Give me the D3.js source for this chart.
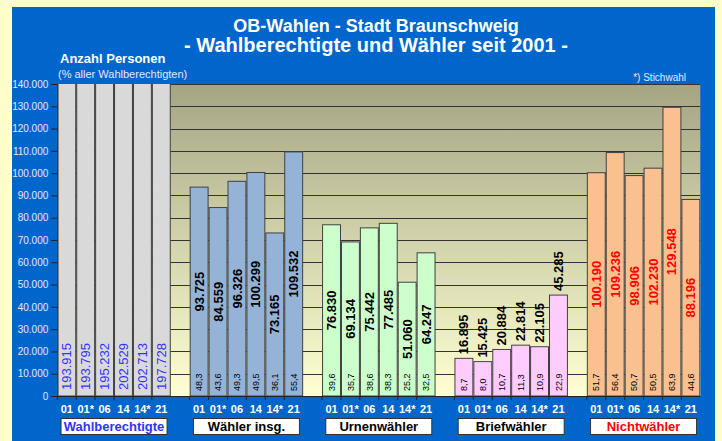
<!DOCTYPE html>
<html>
<head>
<meta charset="utf-8">
<script src="https://cdn.jsdelivr.net/npm/d3@7"></script>
<style>
  body { margin: 0; background: #FFFFCC; }
  svg { display: block; font-family: "Liberation Sans", Arial, sans-serif; }
</style>
</head>
<body>
<svg id="chart"></svg>
<script>
// chart data
const years = ["01", "01*", "06", "14", "14*", "21"];
const groups = ["Wahlberechtigte", "Wähler insg.", "Urnenwähler", "Briefwähler", "Nichtwähler"];
const wahlberechtigte = [193915, 193795, 195232, 202529, 202713, 197728];
const waehler = [93725, 84559, 96326, 100299, 73165, 109532];
const waehlerPct = [48.3, 43.6, 49.3, 49.5, 36.1, 55.4];
const urnen = [76830, 69134, 75442, 77485, 51060, 64247];
const urnenPct = [39.6, 35.7, 38.6, 38.3, 25.2, 32.5];
const brief = [16895, 15425, 20884, 22814, 22105, 45285];
const briefPct = [8.7, 8.0, 10.7, 11.3, 10.9, 22.9];
const nicht = [100190, 109236, 98906, 102230, 129548, 88196];
const nichtPct = [51.7, 56.4, 50.7, 50.5, 63.9, 44.6];
const yTicks = [0, 10000, 20000, 30000, 40000, 50000, 60000, 70000, 80000, 90000, 100000, 110000, 120000, 130000, 140000];

const seriesValues = [wahlberechtigte, waehler, urnen, brief, nicht];
const seriesPct = [null, waehlerPct, urnenPct, briefPct, nichtPct];
const fills = ["#D9D9D9", "#95B3D7", "#CCFFCC", "#FFCCFF", "#FAC090"];
const labelColors = ["#3333FF", "#000", "#000", "#000", "#FF0000"];
const boxColors = ["#3333FF", "#000", "#000", "#000", "#FF0000"];

const width = 722, height = 441;
const plotLeft = 57.3, plotRight = 700.3, plotTop = 84, plotBottom = 396;

const de = d3.formatLocale({ decimal: ",", thousands: ".", grouping: [3], currency: ["", "€"] });
const fmtN = de.format(",d");
const fmtP = de.format(".1f");

// slots: 6 bars per group plus an empty slot between groups
const slots = [];
groups.forEach((g, gi) => {
  years.forEach(yr => slots.push(gi + "|" + yr));
  if (gi < groups.length - 1) slots.push("gap" + gi);
});

const x = d3.scaleBand().domain(slots).range([plotLeft, plotRight]).paddingInner(0);
const y = d3.scaleLinear().domain([0, 140000]).range([plotBottom, plotTop]);

const bars = [];
groups.forEach((g, gi) => {
  years.forEach((yr, i) => {
    bars.push({ g: gi, key: gi + "|" + yr, year: yr, value: seriesValues[gi][i], pct: seriesPct[gi] ? seriesPct[gi][i] : null });
  });
});

const svg = d3.select("#chart").attr("width", width).attr("height", height);

svg.append("rect").attr("x", 12).attr("y", 7).attr("width", 703).attr("height", 434).attr("fill", "#0066CC");

const defs = svg.append("defs");
const grad = defs.append("linearGradient").attr("id", "bg").attr("x1", 0).attr("y1", 0).attr("x2", 0).attr("y2", 1);
grad.append("stop").attr("offset", "0%").attr("stop-color", "#A5A585");
grad.append("stop").attr("offset", "100%").attr("stop-color", "#FFFFD2");
defs.append("clipPath").attr("id", "plotclip").append("rect")
  .attr("x", plotLeft).attr("y", plotTop).attr("width", plotRight - plotLeft).attr("height", plotBottom - plotTop);

svg.append("rect").attr("x", plotLeft).attr("y", plotTop).attr("width", plotRight - plotLeft).attr("height", plotBottom - plotTop)
  .attr("fill", "url(#bg)");

// gridlines
svg.append("g").selectAll("line").data(yTicks.slice(1)).join("line")
  .attr("x1", plotLeft).attr("x2", plotRight)
  .attr("y1", d => Math.round(y(d)) + 0.5).attr("y2", d => Math.round(y(d)) + 0.5)
  .attr("stroke", "#333").attr("stroke-width", 1);

// titles
svg.append("text").attr("x", 376).attr("y", 32).attr("text-anchor", "middle")
  .attr("fill", "#fff").attr("font-weight", "bold").attr("font-size", 18).text("OB-Wahlen - Stadt Braunschweig");
svg.append("text").attr("x", 376).attr("y", 52).attr("text-anchor", "middle")
  .attr("fill", "#fff").attr("font-weight", "bold").attr("font-size", 20).text("- Wahlberechtigte und Wähler seit 2001 -");
svg.append("text").attr("x", 60).attr("y", 63)
  .attr("fill", "#fff").attr("font-weight", "bold").attr("font-size", 13).text("Anzahl Personen");
svg.append("text").attr("x", 58).attr("y", 78)
  .attr("fill", "#E6E6FF").attr("font-size", 11).text("(% aller Wahlberechtigten)");
svg.append("text").attr("x", 686).attr("y", 81).attr("text-anchor", "end")
  .attr("fill", "#E6E6FF").attr("font-size", 10).text("*) Stichwahl");

// bars
const plot = svg.append("g").attr("clip-path", "url(#plotclip)");
plot.selectAll("rect").data(bars).join("rect")
  .attr("x", d => x(d.key) + 0.5)
  .attr("y", d => y(d.value))
  .attr("width", x.bandwidth() - 1)
  .attr("height", d => plotBottom - y(d.value))
  .attr("fill", d => fills[d.g])
  .attr("stroke", "#404040").attr("stroke-width", 1);

// value labels
svg.append("g").selectAll("text").data(bars).join("text")
  .attr("font-size", 13)
  .attr("font-weight", d => d.g === 0 ? "normal" : "bold")
  .attr("fill", d => labelColors[d.g])
  .attr("transform", d => {
    const cx = x(d.key) + x.bandwidth() / 2;
    let py;
    if (d.g === 0) py = 390;
    else if (d.g === 3) py = y(d.value) - 4;
    else py = (y(d.value) + plotBottom) / 2;
    return "translate(" + cx + "," + py + ") rotate(-90)";
  })
  .attr("text-anchor", d => (d.g === 0 || d.g === 3) ? "start" : "middle")
  .attr("dy", "0.35em")
  .text(d => fmtN(d.value));

// percent labels
svg.append("g").selectAll("text").data(bars.filter(d => d.pct !== null)).join("text")
  .attr("font-size", 9)
  .attr("fill", "#000")
  .attr("transform", d => "translate(" + (x(d.key) + x.bandwidth() / 2) + ",391) rotate(-90)")
  .attr("dy", "0.35em")
  .text(d => fmtP(d.pct));

// y axis
const yAxis = svg.append("g").attr("transform", "translate(" + plotLeft + ",0)")
  .call(d3.axisLeft(y).tickValues(yTicks).tickSize(6).tickPadding(3).tickFormat(d => fmtN(d)));
yAxis.select(".domain").attr("stroke", "#222");
yAxis.selectAll(".tick line").attr("stroke", "#222");
yAxis.selectAll("text").attr("fill", "#E6E6FF").attr("font-size", 10).attr("font-family", "Liberation Sans, Arial, sans-serif");

// x axis
svg.append("line").attr("x1", plotLeft - 6).attr("x2", plotRight).attr("y1", plotBottom + 0.5).attr("y2", plotBottom + 0.5).attr("stroke", "#222");
svg.append("g").selectAll("line").data(bars).join("line")
  .attr("x1", d => x(d.key)).attr("x2", d => x(d.key))
  .attr("y1", plotBottom).attr("y2", plotBottom + 4).attr("stroke", "#222");
svg.append("g").selectAll("text").data(bars).join("text")
  .attr("x", d => x(d.key) + x.bandwidth() / 2)
  .attr("y", 413)
  .attr("text-anchor", "middle")
  .attr("fill", "#fff").attr("font-weight", "bold").attr("font-size", 11)
  .text(d => d.year);

// group boxes
groups.forEach((g, gi) => {
  const x0 = x(gi + "|" + years[0]);
  const x1 = x(gi + "|" + years[5]) + x.bandwidth();
  const cx = (x0 + x1) / 2;
  svg.append("rect").attr("x", cx - 53).attr("y", 418.5).attr("width", 106).attr("height", 16)
    .attr("fill", "#fff").attr("stroke", "#333");
  svg.append("text").attr("x", cx).attr("y", 431).attr("text-anchor", "middle")
    .attr("fill", boxColors[gi]).attr("font-weight", "bold").attr("font-size", 13).text(g);
});
</script>
</body>
</html>
